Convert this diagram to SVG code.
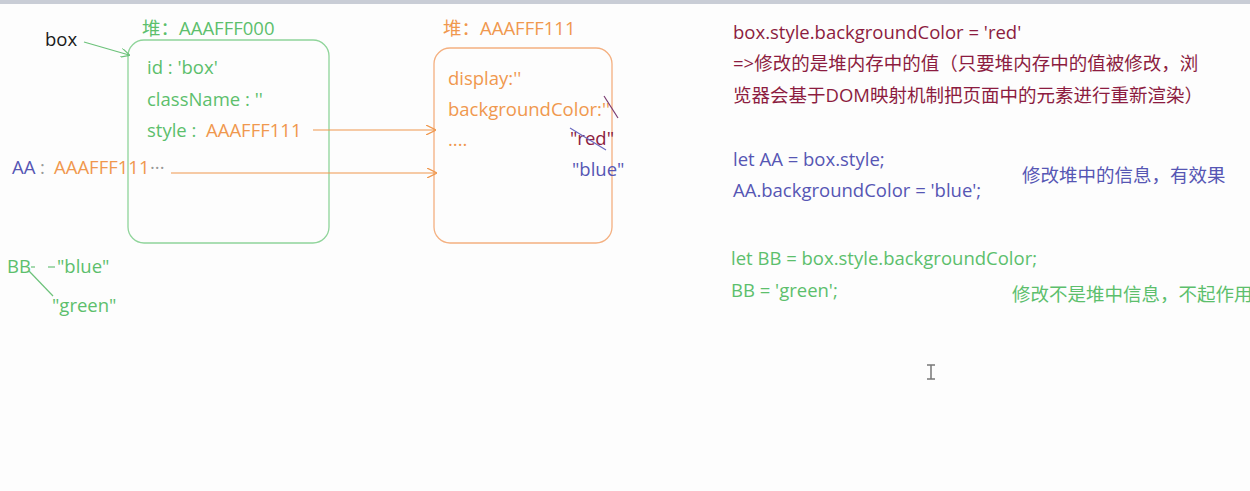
<svg xmlns="http://www.w3.org/2000/svg" width="1250" height="491" viewBox="0 0 1250 491">
<style>
text{font-family:"Open Sans","Noto Sans CJK SC",sans-serif;font-size:18.5px}
.g{fill:#5cbf6c}
.o{fill:#f0984e}
.b{fill:#5656b4}
.r{fill:#8c1c40}
.k{fill:#1a1a1a}
.gr{fill:#999}
.box{fill:none;stroke-width:1.3}
.cn{stroke-width:1.2;fill:none}
</style>
<defs>
<marker id="ag" viewBox="0 0 10 10" refX="9" refY="5" markerWidth="9" markerHeight="9" orient="auto" markerUnits="userSpaceOnUse"><path d="M0,0 L10,5 L0,10" fill="none" stroke="#6cc27a" stroke-width="1.3"/></marker>
<marker id="ao" viewBox="0 0 10 10" refX="9" refY="5" markerWidth="10" markerHeight="10" orient="auto" markerUnits="userSpaceOnUse"><path d="M0,0 L10,5 L0,10" fill="none" stroke="#f0984e" stroke-width="1.3"/></marker>
</defs>
<rect width="1250" height="491" fill="#fdfdfd"/>
<rect width="1250" height="4" fill="#c9cdd6"/>

<g id="label-box"><text x="45" y="46" class="k">box</text></g>

<g id="heap-000">
<text x="142" y="35" class="g">堆：AAAFFF000</text>
<rect x="128" y="40" width="201" height="203" rx="16" class="box" stroke="#8fd49a"/>
<text x="147" y="74" class="g">id : 'box'</text>
<text x="147" y="106" class="g">className : ''</text>
<text y="137" class="g"><tspan x="147">style :</tspan><tspan x="206" class="o">AAAFFF111</tspan></text>
</g>

<g id="heap-111">
<text x="443" y="35" class="o">堆：AAAFFF111</text>
<rect x="434" y="48" width="178" height="195" rx="16" class="box" stroke="#f4b080"/>
<text x="448" y="85" class="o">display:''</text>
<text x="448" y="116" class="o">backgroundColor:''</text>
<text x="448" y="146" class="o">....</text>
<text x="570" y="145" class="r">"red"</text>
<text x="572" y="176" class="b">"blue"</text>
<line x1="604" y1="96" x2="618" y2="118" stroke="#7a3a70" stroke-width="1.2"/>
<line x1="570" y1="128" x2="606" y2="150" stroke="#6a6ac0" stroke-width="1.2"/>
</g>

<g id="var-AA"><text y="174"><tspan x="12" class="b">AA</tspan><tspan x="40" class="gr">:</tspan><tspan x="54" class="o">AAAFFF111</tspan><tspan x="150" class="gr">···</tspan></text></g>

<g id="var-BB">
<text x="7" y="273" class="g">BB</text>
<text x="57" y="273" class="g">"blue"</text>
<text x="52" y="312" class="g">"green"</text>
</g>

<g id="connectors">
<line x1="84" y1="42" x2="129" y2="55" stroke="#6cc27a" class="cn" marker-end="url(#ag)"/>
<line x1="313" y1="130" x2="435" y2="130" stroke="#f0984e" class="cn" marker-end="url(#ao)"/>
<line x1="171" y1="173" x2="436" y2="173" stroke="#f0984e" class="cn" marker-end="url(#ao)"/>
<line x1="31" y1="267" x2="35" y2="267" stroke="#6cc27a" class="cn"/>
<line x1="48" y1="267" x2="55" y2="267" stroke="#6cc27a" class="cn"/>
<line x1="29" y1="271" x2="53" y2="296" stroke="#6cc27a" class="cn"/>
</g>

<g id="notes">
<text x="733" y="39" class="r">box.style.backgroundColor = 'red'</text>
<text x="733" y="70" class="r">=&gt;修改的是堆内存中的值（只要堆内存中的值被修改，浏</text>
<text x="733" y="102" class="r">览器会基于DOM映射机制把页面中的元素进行重新渲染）</text>
<text x="733" y="166" class="b">let AA = box.style;</text>
<text x="733" y="197" class="b">AA.backgroundColor = 'blue';</text>
<text x="1022" y="182" class="b">修改堆中的信息，有效果</text>
<text x="731" y="265" class="g">let BB = box.style.backgroundColor;</text>
<text x="731" y="297" class="g">BB = 'green';</text>
<text x="1012" y="301" class="g">修改不是堆中信息，不起作用</text>
</g>

<g id="cursor"><path d="M927,365 H935 M931,365 V379 M927,379 H935" stroke="#777" stroke-width="1.5" fill="none"/></g>
</svg>
